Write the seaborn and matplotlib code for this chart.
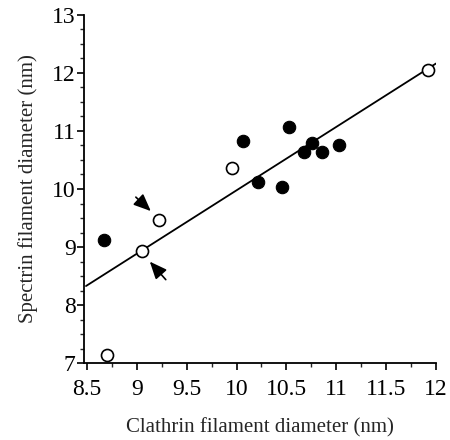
import matplotlib
matplotlib.use("Agg")
import matplotlib.pyplot as plt
import seaborn as sns
import pandas as pd
from matplotlib.ticker import MultipleLocator

# Data
filled_x = [8.67, 10.06, 10.21, 10.46, 10.53, 10.68, 10.76, 10.86, 11.03]
filled_y = [9.12, 10.82, 10.12, 10.03, 11.07, 10.63, 10.80, 10.63, 10.75]
open_x = [8.70, 9.05, 9.22, 9.95, 11.92]
open_y = [7.15, 8.94, 9.47, 10.36, 12.04]
fit_x = [8.49, 12.0]
fit_y = [8.33, 12.16]
# arrows: (tail_x, tail_y, head_x, head_y)
arrow_tail_x = [8.99, 9.29]
arrow_tail_y = [9.86, 8.44]
arrow_head_x = [9.14, 9.13]
arrow_head_y = [9.62, 8.75]
xticks = [8.5, 9, 9.5, 10, 10.5, 11, 11.5, 12]
xticklabels = ["8.5", "9", "9.5", "10", "10.5", "11", "11.5", "12"]
yticks = [7, 8, 9, 10, 11, 12, 13]

sns.set_style("ticks")
plt.rcParams['font.family'] = ['Liberation Serif', 'DejaVu Serif']

fig = plt.figure(figsize=(4.5, 4.4), dpi=100)
ax = fig.add_axes([84/450, 1-363.3/440, (436-84)/450, (363.3-14.7)/440])

df_f = pd.DataFrame({"x": filled_x, "y": filled_y})
df_o = pd.DataFrame({"x": open_x, "y": open_y})
df_l = pd.DataFrame({"x": fit_x, "y": fit_y})

sns.lineplot(data=df_l, x="x", y="y", ax=ax, color="black", linewidth=1.3, zorder=2)
sns.scatterplot(data=df_f, x="x", y="y", ax=ax, s=80, color="black",
                edgecolor="black", linewidth=0.8, zorder=3)
sns.scatterplot(data=df_o, x="x", y="y", ax=ax, s=75, facecolor="white",
                edgecolor="black", linewidth=1.2, zorder=3)

for tx, ty, hx, hy in zip(arrow_tail_x, arrow_tail_y, arrow_head_x, arrow_head_y):
    ax.annotate("", xy=(hx, hy), xytext=(tx, ty),
                arrowprops=dict(arrowstyle="-|>,head_length=0.75,head_width=0.32",
                                mutation_scale=14,
                                color="black", lw=1.2, shrinkA=0, shrinkB=0),
                zorder=4)

ax.set_xlim(8.47, 12.0)
ax.set_ylim(7, 13)
ax.set_xticks(xticks)
ax.set_xticklabels(xticklabels)
ax.set_yticks(yticks)
ax.xaxis.set_minor_locator(MultipleLocator(0.25))
ax.yaxis.set_minor_locator(MultipleLocator(0.25))
ax.tick_params(which="major", direction="out", length=5, width=1.2, labelsize=17, colors="black")
ax.tick_params(axis="x", which="major", pad=6)
ax.tick_params(axis="y", which="major", pad=1)
ax.tick_params(which="minor", direction="out", length=3, width=1.0)
for s in ["left", "bottom"]:
    ax.spines[s].set_linewidth(1.3)
    ax.spines[s].set_color("black")
sns.despine(ax=ax)

ax.set_xlabel("Clathrin filament diameter (nm)", fontsize=15, labelpad=13)
ax.set_ylabel("Spectrin filament diameter (nm)", fontsize=15, labelpad=10)

fig.savefig("out.png", dpi=100)
